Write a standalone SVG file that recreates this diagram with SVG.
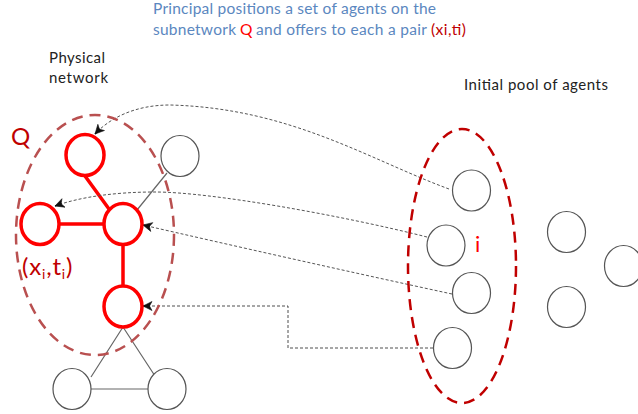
<svg xmlns="http://www.w3.org/2000/svg" width="638" height="414" viewBox="0 0 638 414">
<style>
text{font-family:Lato,"Open Sans",sans-serif}
.a{fill:#fff;stroke:#555;stroke-width:1.2}
.r{fill:#fff;stroke:#f00;stroke-width:3.5}
.e{stroke:#f00;stroke-width:3.5;fill:none}
.g{stroke:#666;stroke-width:1.2;fill:none}
.c{fill:none;stroke:#555;stroke-width:1;stroke-dasharray:3 2;marker-end:url(#ah)}
.d{fill:none;stroke:#222;stroke-width:.8;stroke-dasharray:3 2;marker-end:url(#ah)}
.b{fill:#5b87c0;font-size:15.5px}
.k{fill:#222;font-size:15px}
</style>
<defs><marker id="ah" markerUnits="userSpaceOnUse" markerWidth="12" markerHeight="12" refX="10" refY="5" orient="auto" viewBox="0 0 12 10"><path d="M1 0.5L10 5L1 9.5L3.5 5Z" fill="#111" stroke="#111" stroke-width="0.6"/><path d="M3 5H10" stroke="#111" stroke-width="1.2"/></marker></defs>
<g id="edges">
<path class="g" d="M167 173L137 210M123 327L91 377M123 327L155 376M91 389H148"/>
<path class="e" d="M85 176L109 209M60 224H104M123 245V286"/>
</g>
<g id="connectors">
<path class="c" d="M449 189C370 160 290 108 170 105C135 105 110 118 95 134"/>
<path class="c" d="M427 237C340 215 210 192 155 192C115 192 80 197 55 206"/>
<path class="c" d="M452 294C350 272 230 245 143 225"/>
<path class="d" d="M433 348H288V306H143"/>
</g>
<g id="region-q"><ellipse cx="95" cy="235" rx="79" ry="120" fill="none" stroke="#b95050" stroke-width="2.5" stroke-dasharray="11 7"/></g>
<g id="region-pool"><ellipse cx="462" cy="266" rx="54" ry="137" fill="none" stroke="#c00000" stroke-width="2.5" stroke-dasharray="11 7"/></g>
<g id="n1"><ellipse class="r" cx="85" cy="155" rx="19" ry="20.5"/></g>
<g id="n2"><ellipse class="r" cx="40" cy="224" rx="19" ry="20.5"/></g>
<g id="n3"><ellipse class="r" cx="123" cy="224" rx="19" ry="20.5"/></g>
<g id="n4"><ellipse class="r" cx="123" cy="306.5" rx="19" ry="20.5"/></g>
<g id="n5"><ellipse class="a" cx="180" cy="156" rx="19" ry="20.5"/></g>
<g id="n6"><ellipse class="a" cx="72" cy="389" rx="19" ry="20.5"/></g>
<g id="n7"><ellipse class="a" cx="167" cy="389" rx="19" ry="20.5"/></g>
<g id="p1"><ellipse class="a" cx="471.5" cy="190.5" rx="19" ry="20.5"/></g>
<g id="p2"><ellipse class="a" cx="446" cy="245.5" rx="19" ry="20.5"/></g>
<g id="p3"><ellipse class="a" cx="471.5" cy="293" rx="19" ry="20.5"/></g>
<g id="p4"><ellipse class="a" cx="452.5" cy="348" rx="19" ry="20.5"/></g>
<g id="p5"><ellipse class="a" cx="566.5" cy="232" rx="19" ry="20.5"/></g>
<g id="p6"><ellipse class="a" cx="566.5" cy="307" rx="19" ry="20.5"/></g>
<g id="p7"><ellipse class="a" cx="623.5" cy="266" rx="19" ry="20.5"/></g>
<g id="labels">
<text class="b" x="153" y="14" textLength="283">Principal positions a set of agents on the</text>
<text class="b" x="153" y="35" textLength="83">subnetwork</text>
<text class="b" x="240" y="35" style="fill:#f00">Q</text>
<text class="b" x="256" y="35" textLength="171">and offers to each a pair</text>
<text class="b" x="431" y="35" textLength="35" style="fill:#c00000">(xi,ti)</text>
<text class="k" x="49" y="63" textLength="56">Physical</text>
<text class="k" x="49" y="83" textLength="59">network</text>
<text class="k" x="464" y="90" textLength="144">Initial pool of agents</text>
<text x="11" y="145" font-size="24" fill="#c00000">Q</text>
<text x="22" y="275" font-size="24" fill="#c00000" letter-spacing="0.8">(x<tspan font-size="14" dy="4">i</tspan><tspan dy="-4">,t</tspan><tspan font-size="14" dy="4">i</tspan><tspan dy="-4">)</tspan></text>
<text x="475" y="252" font-size="22" fill="#f00">i</text>
</g>
</svg>
